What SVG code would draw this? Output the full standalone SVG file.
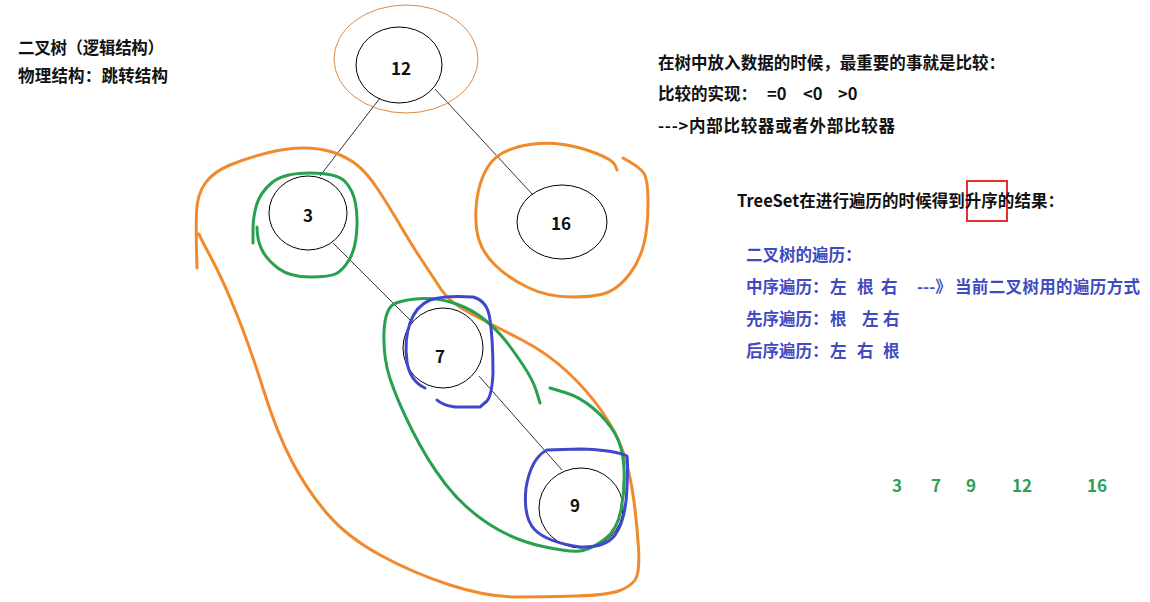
<svg xmlns="http://www.w3.org/2000/svg" width="1150" height="602" viewBox="0 0 1150 602">
<style>
text{font-family:"Noto Sans CJK SC","Liberation Sans",sans-serif;font-weight:bold;}
.t{font-size:16.5px;fill:#111;}
.b{font-size:16.5px;fill:#3f4bbf;}
.g{font-size:17px;fill:#2e9e58;}
.n{font-size:17px;fill:#111;text-anchor:middle;}
.node{fill:none;stroke:#000;stroke-width:1;}
.edge{stroke:#000;stroke-width:0.8;fill:none;}
.or{fill:none;stroke:#f08a2c;stroke-width:3;stroke-linecap:round;stroke-linejoin:round;}
.gr{fill:none;stroke:#28a050;stroke-width:3;stroke-linecap:round;stroke-linejoin:round;}
.bl{fill:none;stroke:#3f48cc;stroke-width:3;stroke-linecap:round;stroke-linejoin:round;}
</style>
<rect width="1150" height="602" fill="#fff"/>
<g id="connectors">
<line class="edge" x1="380" y1="98" x2="320" y2="176"/>
<line class="edge" x1="435" y1="89" x2="533" y2="195"/>
<line class="edge" x1="333" y1="243" x2="413" y2="323"/>
<line class="edge" x1="479" y1="376" x2="562" y2="470"/>
</g>
<g id="node-12">
<ellipse cx="406" cy="59" rx="72" ry="54" fill="none" stroke="#d98a45" stroke-width="1"/>
<ellipse class="node" cx="399" cy="65" rx="43" ry="38"/>
<text class="n" x="401" y="75">12</text>
</g>
<g id="node-3">
<ellipse class="node" cx="308" cy="213" rx="39" ry="37"/>
<text class="n" x="308" y="222">3</text>
</g>
<g id="node-16">
<ellipse class="node" cx="562" cy="222" rx="45" ry="37"/>
<text class="n" x="561" y="230">16</text>
</g>
<g id="node-7">
<ellipse class="node" cx="443" cy="348" rx="40" ry="40"/>
<text class="n" x="440" y="363">7</text>
</g>
<g id="node-9">
<ellipse class="node" cx="581" cy="508" rx="42" ry="40"/>
<text class="n" x="575" y="512">9</text>
</g>
<g id="annotations">
<path class="or" d="M197,268 L196.5,249 Q196,230 196.5,212.5 Q197,195 205,183.5 Q213,172 230,165 Q247,158 267,153 Q287,148 303.5,148 Q320,148 333.5,152.5 Q347,157 357,165 Q367,173 377,188 Q387,203 400,225 Q413,247 423,262 Q433,277 441.5,290 Q450,303 473.5,315 Q497,327 522,340 Q547,353 567,371.5 Q587,390 602,411.5 Q617,433 623.5,453 Q630,473 633.5,498 Q637,523 638.5,548 Q640,573 635,580 Q630,587 618.5,591 Q607,595 577,596 Q547,597 517,597 Q487,597 450,585 Q413,573 380,555 Q347,537 327,513.5 Q307,490 292,461.5 Q277,433 263.5,390 Q250,347 236.5,313.5 Q223,280 211.5,258.5 Q200,237 199,234"/>
<path class="or" d="M617,170 L615,165 Q613,160 596.5,153.5 Q580,147 563.5,144.5 Q547,142 530,144.5 Q513,147 501.5,153.5 Q490,160 483.5,175 Q477,190 476,208.5 Q475,227 479,240 Q483,253 495,265 Q507,277 527,287 Q547,297 572,297 Q597,297 608.5,292 Q620,287 630,273.5 Q640,260 644,243.5 Q648,227 648,203.5 Q648,180 644,173.5 Q640,167 623,158"/>
<path class="gr" d="M253,243 L253,230 Q253,217 256.5,205 Q260,193 271.5,183 Q283,173 310,173 Q337,173 345,181.5 Q353,190 355.5,203.5 Q358,217 356.5,233.5 Q355,250 349,260 Q343,270 336.5,273.5 Q330,277 310,277 Q290,277 278.5,268.5 Q267,260 262,250 Q257,240 257,227"/>
<path class="gr" d="M540,403 L536.5,391.5 Q533,380 523,365 Q513,350 505,340 Q497,330 485,320 Q473,310 456.5,304 Q440,298 423.5,298.5 Q407,299 396,303 Q385,307 384,332 Q383,357 390,378.5 Q397,400 412,430 Q427,460 445,483.5 Q463,507 488,523.5 Q513,540 543,546.5 Q573,553 583,550.5 Q593,548 605,539 Q617,530 621,510 Q625,490 624,468.5 Q623,447 615,433.5 Q607,420 593.5,408.5 Q580,397 565,392.5 L550,388"/>
<path class="bl" d="M425,388 Q410,381 407,362 Q404,340 410,323 Q416,306 430,300 Q445,295 473,297 Q488,301 490,320 Q493,340 493,373 Q492,395 487,401 L480,407 L455,407 Q442,405 437,400"/>
<path class="bl" d="M547,450 Q531,458 526,488 Q523,518 535,530 Q547,542 580,547 Q605,548 615,535 Q626,520 627,487 Q628,462 627,456 Q615,450 580,449 Z"/>
<rect x="967" y="181" width="40" height="40" fill="none" stroke="#e8302a" stroke-width="2"/>
</g>
<g id="texts">
<text class="t" x="18" y="54" textLength="146">二叉树（逻辑结构）</text>
<text class="t" x="18" y="82" textLength="150">物理结构：跳转结构</text>
<text class="t" x="658" y="69" textLength="347">在树中放入数据的时候，最重要的事就是比较：</text>
<text class="t" x="658" y="100">比较的实现：<tspan x="767">=0</tspan><tspan x="803">&lt;0</tspan><tspan x="838">&gt;0</tspan></text>
<text class="t" x="658" y="132" textLength="237">---&gt;内部比较器或者外部比较器</text>
<text class="t" x="737" y="207" textLength="327">TreeSet在进行遍历的时候得到升序的结果：</text>
<text class="b" x="746" y="261">二叉树的遍历：</text>
<text class="b" x="746" y="293">中序遍历：<tspan x="830">左</tspan><tspan x="857">根</tspan><tspan x="881">右</tspan><tspan x="917">---》</tspan></text>
<text class="b" x="955" y="293" textLength="185">当前二叉树用的遍历方式</text>
<text class="b" x="746" y="325">先序遍历：<tspan x="830">根</tspan><tspan x="862">左</tspan><tspan x="883">右</tspan></text>
<text class="b" x="746" y="357">后序遍历：<tspan x="830">左</tspan><tspan x="857">右</tspan><tspan x="883">根</tspan></text>
<text class="g" x="892" y="492">3</text>
<text class="g" x="931" y="492">7</text>
<text class="g" x="966" y="492">9</text>
<text class="g" x="1012" y="492">12</text>
<text class="g" x="1087" y="492">16</text>
</g>
</svg>
